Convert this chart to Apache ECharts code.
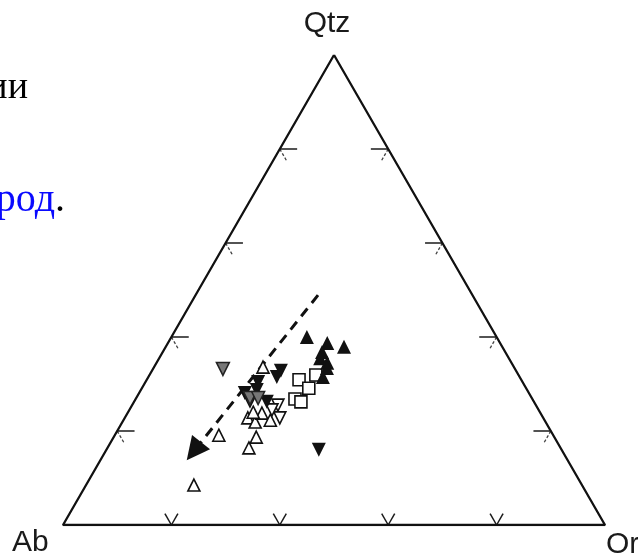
<!DOCTYPE html>
<html>
<head>
<meta charset="utf-8">
<style>
  html, body { margin: 0; padding: 0; background: #fff; }
  #chart { width: 638px; height: 559px; }
</style>
<script src="https://cdn.jsdelivr.net/npm/echarts@6/dist/echarts.min.js"></script>
</head>
<body>
<div id="chart"></div>
<script>
// вершины треугольника
var apexNames = ['Qtz', 'Ab', 'Or'];
// деления на сторонах, %
var tickValues = [20, 40, 60, 80];

// составы точек [Qtz, Ab, Or], %
var blackUp = [
  [40.0, 35.0, 25.0], [38.7, 31.9, 29.4], [37.9, 29.2, 32.9], [36.8, 33.8, 29.4],
  [35.5, 34.8, 29.7], [34.5, 34.0, 31.5], [33.4, 34.6, 32.0], [31.5, 36.3, 32.2]
];
var blackDown = [
  [32.8, 43.4, 23.8], [31.5, 44.8, 23.7], [30.4, 48.8, 20.8], [16.0, 44.8, 39.2],
  [28.1, 52.4, 19.5], [26.2, 52.4, 21.4], [26.2, 49.3, 24.5], [28.7, 49.9, 21.4]
];
var grayDown = [
  [33.2, 53.9, 12.9], [27.0, 52.0, 21.0], [27.0, 50.5, 22.5]
];
var openSquare = [
  [30.9, 41.0, 28.1], [31.9, 37.4, 30.7], [29.1, 40.1, 30.8], [26.8, 43.8, 29.4],
  [26.2, 43.0, 30.8]
];
var openUp = [
  [19.1, 61.7, 19.2], [18.7, 55.0, 26.3], [16.4, 57.5, 26.1], [8.5, 71.6, 19.9],
  [22.8, 54.5, 22.7], [21.9, 53.6, 24.5], [23.8, 51.4, 24.8], [22.3, 50.6, 27.1],
  [33.6, 46.3, 20.1], [24.0, 52.9, 23.1]
];
var openDown = [
  [25.5, 47.6, 26.9], [22.8, 48.6, 28.6], [24.5, 49.2, 26.3]
];
// тренд (штриховая стрелка): начало и конец
var trendLine = [
  [48.9, 28.5, 22.6], [15.7, 68.0, 16.3]
];

var SQ = Math.sqrt(3) / 2;

// перевод тройного состава в координаты плоскости
function tern(c) {
  var s = c[0] + c[1] + c[2];
  var q = c[0] / s, or = c[2] / s;
  return [or + q / 2, q * SQ];
}

function toXY(arr) {
  return arr.map(tern);
}

var frame = toXY([[100, 0, 0], [0, 100, 0], [0, 0, 100], [100, 0, 0]]);

// засечки
var armA = 0.024, armH = 0.032;
var tickSolid = [], tickDash = [];
tickValues.forEach(function(t) {
  var p = tern([0, 100 - t, t]);
  tickSolid.push({coords: [p, [p[0] - 0.5 * armA, p[1] + SQ * armA]]});
  tickSolid.push({coords: [p, [p[0] + 0.5 * armA, p[1] + SQ * armA]]});

  p = tern([t, 100 - t, 0]);
  tickSolid.push({coords: [p, [p[0] + armH, p[1]]]});
  tickDash.push({coords: [p, [p[0] + 0.5 * armA, p[1] - SQ * armA]]});

  p = tern([t, 0, 100 - t]);
  tickSolid.push({coords: [p, [p[0] - armH, p[1]]]});
  tickDash.push({coords: [p, [p[0] - 0.5 * armA, p[1] - SQ * armA]]});
});

var chart = echarts.init(document.getElementById('chart'));

var labelFont = {fontFamily: 'Liberation Sans', fontSize: 30, fill: '#1a1a1a'};

var option = {
  animation: false,
  backgroundColor: '#fff',
  grid: {left: 63, top: 55, width: 542, height: 470},
  xAxis: {type: 'value', min: 0, max: 1, show: false},
  yAxis: {type: 'value', min: 0, max: SQ, show: false},
  graphic: [
    {type: 'text', x: 28, y: 88, style: {text: 'ии', font: '38px "Liberation Serif"', fill: '#000', align: 'right', verticalAlign: 'middle'}},
    {type: 'text', x: 65, y: 200, style: {
      text: '{b|род}{k|.}', align: 'right', verticalAlign: 'middle',
      rich: {
        b: {fontFamily: 'Liberation Serif', fontSize: 40, fill: '#0a0aff', color: '#0a0aff'},
        k: {fontFamily: 'Liberation Serif', fontSize: 40, fill: '#000', color: '#000'}
      }
    }},
    {type: 'text', x: 327, y: 24, style: Object.assign({text: apexNames[0], align: 'center', verticalAlign: 'middle'}, labelFont)},
    {type: 'text', x: 12, y: 543, style: Object.assign({text: apexNames[1], align: 'left', verticalAlign: 'middle'}, labelFont)},
    {type: 'text', x: 606, y: 545, style: Object.assign({text: apexNames[2], align: 'left', verticalAlign: 'middle'}, labelFont)}
  ],
  series: [
    {
      type: 'line', data: frame, symbol: 'none', silent: true,
      lineStyle: {color: '#111', width: 2.3}, z: 2
    },
    {
      type: 'lines', coordinateSystem: 'cartesian2d', data: tickSolid, silent: true,
      lineStyle: {color: '#1a1a1a', width: 1.5, opacity: 1}, z: 2
    },
    {
      type: 'lines', coordinateSystem: 'cartesian2d', data: tickDash, silent: true,
      lineStyle: {color: '#444', width: 1.3, type: [3, 2], opacity: 1}, z: 2
    },
    {
      type: 'lines', coordinateSystem: 'cartesian2d', silent: true,
      data: [{coords: toXY(trendLine)}],
      symbol: ['none', 'triangle'], symbolSize: 23,
      lineStyle: {color: '#111', width: 3, type: [10, 7], opacity: 1},
      itemStyle: {color: '#111'}, z: 3
    },
    {
      type: 'scatter', data: toXY(openUp), symbol: 'triangle', symbolSize: 12,
      itemStyle: {color: '#fff', borderColor: '#111', borderWidth: 1.6, opacity: 1}, z: 4
    },
    {
      type: 'scatter', data: toXY(openDown), symbol: 'triangle', symbolRotate: 180, symbolSize: 12,
      itemStyle: {color: '#fff', borderColor: '#111', borderWidth: 1.6, opacity: 1}, z: 4
    },
    {
      type: 'scatter', data: toXY(openSquare), symbol: 'rect', symbolSize: 12,
      itemStyle: {color: '#fff', borderColor: '#111', borderWidth: 1.6, opacity: 1}, z: 4
    },
    {
      type: 'scatter', data: toXY(blackDown), symbol: 'triangle', symbolRotate: 180, symbolSize: 14,
      itemStyle: {color: '#111', opacity: 1}, z: 5
    },
    {
      type: 'scatter', data: toXY(grayDown), symbol: 'triangle', symbolRotate: 180, symbolSize: 13,
      itemStyle: {color: '#777', borderColor: '#222', borderWidth: 1.5, opacity: 1}, z: 6
    },
    {
      type: 'scatter', data: toXY(blackUp), symbol: 'triangle', symbolSize: 14,
      itemStyle: {color: '#111', opacity: 1}, z: 5
    }
  ]
};
chart.setOption(option);
</script>
</body>
</html>
